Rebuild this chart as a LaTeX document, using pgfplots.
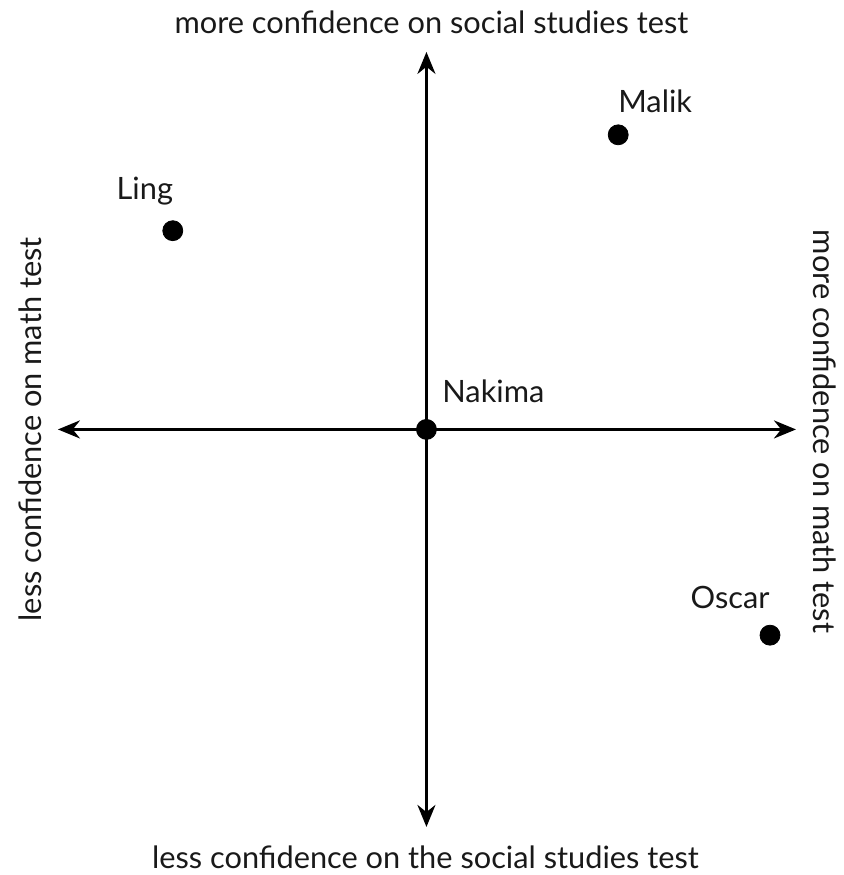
\documentclass[border=0pt]{standalone}
\usepackage{pgfplots}
\pgfplotsset{compat=1.18}
\usepackage{fontspec}
\setmainfont{Lato}
\usetikzlibrary{arrows.meta}
\begin{document}
\begin{tikzpicture}
\begin{axis}[
  scale only axis, width=422pt, height=437.5pt,
  xmin=0, xmax=844, ymin=0, ymax=875,
  hide axis, clip=false,
]
\path (axis cs:0,0) rectangle (axis cs:844,875);
\draw[line width=1.5pt, -{Stealth[length=11pt,width=9pt]}] (axis cs:427,445) -- (axis cs:797,445);
\draw[line width=1.5pt, -{Stealth[length=11pt,width=9pt]}] (axis cs:427,445) -- (axis cs:58,445);
\draw[line width=1.5pt, -{Stealth[length=11pt,width=9pt]}] (axis cs:427,445) -- (axis cs:427,823);
\draw[line width=1.5pt, -{Stealth[length=11pt,width=9pt]}] (axis cs:427,445) -- (axis cs:427,47);
\addplot[only marks, mark=*, mark size=5pt, black] coordinates {
  (173,644) (619,740) (427,445) (771,239)
};
\begin{scope}[every node/.style={font=\fontsize{15.4}{18}\selectfont, text=black!90}]
\node at (axis cs:145,684) {Ling};
\node at (axis cs:656,774) {Malik};
\node at (axis cs:494,483) {Nakima};
\node at (axis cs:731,277) {Oscar};
\node at (axis cs:432,853) {more confidence on social studies test};
\node at (axis cs:426,17) {less confidence on the social studies test};
\node[rotate=90] at (axis cs:30,445) {less confidence on math test};
\node[rotate=-90] at (axis cs:826,443) {more confidence on math test};
\end{scope}
\end{axis}
\end{tikzpicture}
\end{document}
